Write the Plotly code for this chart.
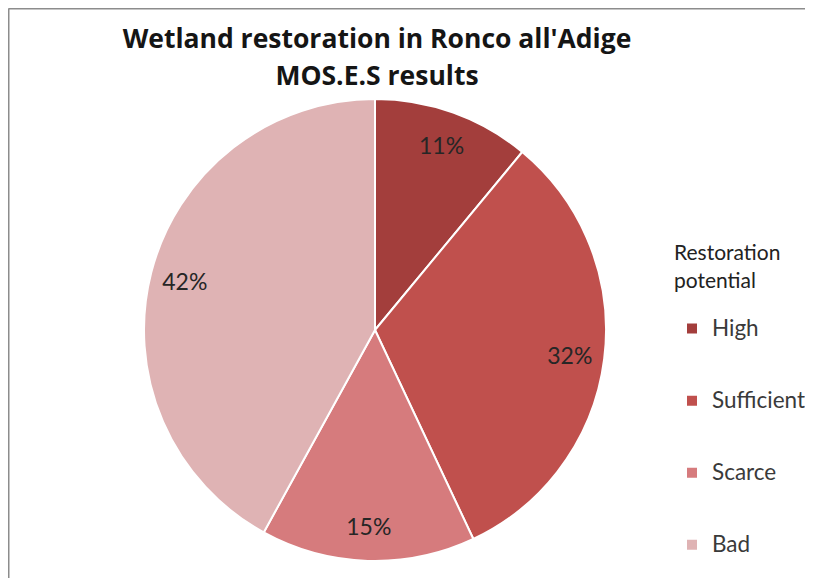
import plotly.graph_objects as go

labels = ["High", "Sufficient", "Scarce", "Bad"]
values = [11, 32, 15, 42]
colors = ["#a33e3c", "#c0504d", "#d67b7d", "#dfb3b4"]
title_lines = ["Wetland restoration in Ronco all'Adige", "MOS.E.S results"]
legend_title = ["Restoration", "potential"]

W, H = 813, 578
OFF = 8  # page body offset
cx, cy, R = 375 - OFF, 330 - OFF, 231

dom = dict(x=[(cx - R) / W, (cx + R) / W], y=[1 - (cy + R) / H, 1 - (cy - R) / H])

legend_labels = [" <br><span style='font-size:22.5px'>%s</span><br> " % l for l in labels]

fig = go.Figure()
fig.add_trace(go.Pie(
    labels=legend_labels,
    values=values,
    sort=False,
    direction="clockwise",
    rotation=0,
    marker=dict(colors=colors, line=dict(color="white", width=2)),
    textinfo="none",
    domain=dom,
    hoverinfo="skip",
))
# transparent ring overlay to place percentage labels near the rim
fig.add_trace(go.Pie(
    labels=labels,
    values=values,
    sort=False,
    direction="clockwise",
    rotation=0,
    hole=0.7,
    marker=dict(colors=["rgba(0,0,0,0)"] * len(values), line=dict(width=0)),
    texttemplate="%{percent:.0%}",
    textposition="inside",
    insidetextorientation="horizontal",
    textfont=dict(family="Lato", size=23, color="#262626"),
    domain=dom,
    showlegend=False,
    hoverinfo="skip",
))

span = "<span style='font-size:26.5px'>%s</span>"
fig.update_layout(
    width=W, height=H,
    margin=dict(l=0, r=0, t=0, b=0, autoexpand=False),
    paper_bgcolor="white",
    title=dict(
        text="<br>".join(span % t for t in title_lines),
        x=(377 - OFF) / W, xanchor="center", xref="container",
        y=1 - (47.5 - OFF) / H, yanchor="middle", yref="container",
        font=dict(family="Open Sans", size=28.5, color="#151515", weight="bold"),
    ),
    legend=dict(
        title=dict(text="<br>".join(legend_title),
                   font=dict(family="Lato", size=21, color="#222222")),
        x=(672 - OFF) / W, xanchor="left",
        y=0, yanchor="bottom",
        maxheight=578,
        font=dict(family="Lato", size=17.7, color="#3a3a3a"),
        valign="middle",
        bgcolor="rgba(0,0,0,0)",
    ),
    shapes=[
        dict(type="line", xref="paper", yref="paper", x0=0.5 / W, x1=0.5 / W, y0=0, y1=1 - 0.5 / H,
             line=dict(color="#8c8c8c", width=2)),
        dict(type="line", xref="paper", yref="paper", x0=0.5 / W, x1=1, y0=1 - 0.5 / H, y1=1 - 0.5 / H,
             line=dict(color="#8c8c8c", width=2)),
    ],
)

fig.write_html("out.html")
